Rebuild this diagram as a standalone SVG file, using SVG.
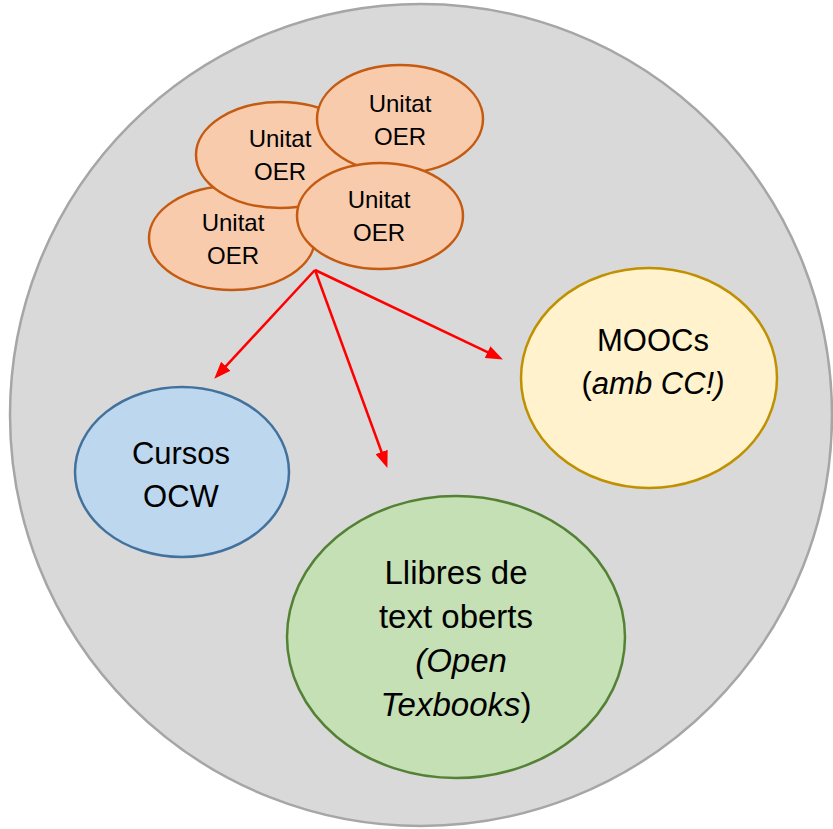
<svg xmlns="http://www.w3.org/2000/svg" width="833" height="829" viewBox="0 0 833 829">
<style>
text{font-family:"Liberation Sans",Arial,sans-serif;fill:#000;text-anchor:middle}
.oer ellipse{fill:#F8CBAD;stroke:#C55A11;stroke-width:2.5}
.oer text{font-size:24px}
.big{font-size:31px}
.lg{font-size:33px}
.conn line{stroke:#FF0000;stroke-width:2.5;fill:none}
</style>
<defs>
<marker id="ah" markerUnits="userSpaceOnUse" markerWidth="17" markerHeight="13" refX="8" refY="6.5" orient="auto">
<path d="M0,0 L17,6.5 L0,13 z" fill="#FF0000"/>
</marker>
</defs>
<g id="container">
<ellipse cx="421" cy="415" rx="411" ry="411" fill="#D9D9D9" stroke="#A6A6A6" stroke-width="2.5"/>
</g>
<g id="oer1" class="oer">
<ellipse cx="232" cy="238" rx="83" ry="52"/>
<text x="233" y="231">Unitat</text><text x="233" y="264">OER</text>
</g>
<g id="oer2" class="oer">
<ellipse cx="280" cy="155" rx="84" ry="53"/>
<text x="280" y="147">Unitat</text><text x="280" y="180">OER</text>
</g>
<g id="oer3" class="oer">
<ellipse cx="400" cy="119" rx="83" ry="54"/>
<text x="400" y="112">Unitat</text><text x="400" y="145">OER</text>
</g>
<g id="oer4" class="oer">
<ellipse cx="380" cy="216" rx="83" ry="53"/>
<text x="379" y="208">Unitat</text><text x="379" y="241">OER</text>
</g>
<g id="connectors" class="conn">
<line x1="315" y1="270" x2="220.4" y2="372.1" marker-end="url(#ah)"/>
<line x1="315" y1="270" x2="384.3" y2="459.5" marker-end="url(#ah)"/>
<line x1="315" y1="270" x2="494.8" y2="355.6" marker-end="url(#ah)"/>
</g>
<g id="ocw">
<ellipse cx="182" cy="472" rx="107" ry="85" fill="#BDD7EE" stroke="#41719C" stroke-width="2.5"/>
<text class="big" x="181" y="464">Cursos</text><text class="big" x="181" y="507">OCW</text>
</g>
<g id="moocs">
<ellipse cx="649" cy="378" rx="128" ry="110" fill="#FFF2CC" stroke="#BF9000" stroke-width="2.5"/>
<text class="big" x="653" y="351">MOOCs</text>
<text class="big" x="653" y="394">(<tspan font-style="italic">amb CC!)</tspan></text>
</g>
<g id="llibres">
<ellipse cx="456" cy="637" rx="169" ry="141" fill="#C5E0B4" stroke="#538135" stroke-width="2.5"/>
<text class="lg" x="456" y="584">Llibres de</text>
<text class="lg" x="456" y="628">text oberts</text>
<text class="lg" x="461" y="672" font-style="italic">(Open</text>
<text class="lg" x="456" y="716"><tspan font-style="italic">Texbooks</tspan>)</text>
</g>
</svg>
